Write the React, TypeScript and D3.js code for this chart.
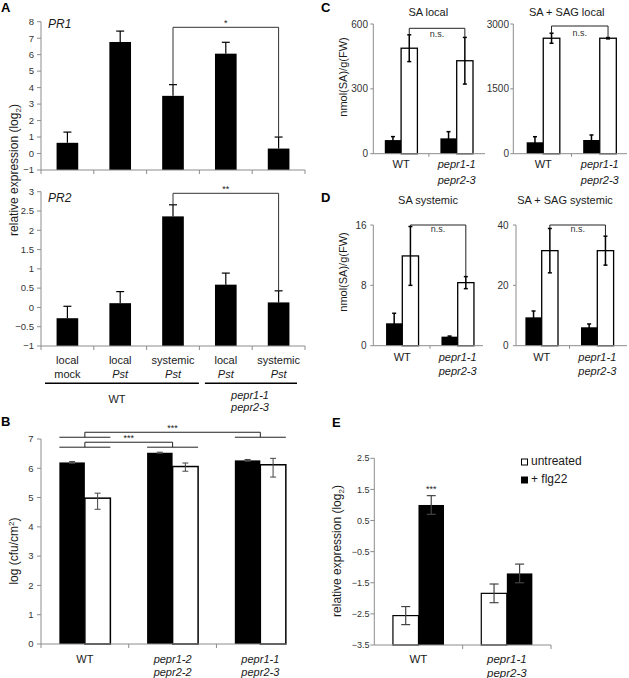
import React from 'react';
import * as d3 from 'd3';

const F = '"Liberation Sans", Arial, Helvetica, sans-serif';
const AX = '#8c8c8c';
const TXT = '#1a1a1a';
const ERR = '#444';

// ---------- Panel A ----------
const aIds = ['c1', 'c2', 'c3', 'c4', 'c5'];
const aLine1 = ['local', 'local', 'systemic', 'local', 'systemic'];
const aLine2 = ['mock', 'Pst', 'Pst', 'Pst', 'Pst'];
const pr1Values = [0.65, 6.77, 3.5, 6.06, 0.3];
const pr1Err = [0.65, 0.66, 0.68, 0.69, 0.7];
const pr1Ticks = [-1, 0, 1, 2, 3, 4, 5, 6, 7, 8];
const pr2Values = [-0.28, 0.11, 2.36, 0.59, 0.13];
const pr2Err = [0.31, 0.3, 0.3, 0.3, 0.3];
const pr2Ticks = [-1, -0.5, 0, 0.5, 1, 1.5, 2, 2.5, 3];

// ---------- Panel B ----------
const bGroups = ['WT', 'pepr1-2', 'pepr1-1'];
const bLabels = [['WT'], ['pepr1-2', 'pepr2-2'], ['pepr1-1', 'pepr2-3']];
const bMock = [6.2, 6.53, 6.27];
const bMockErr = [0.03, 0.02, 0.03];
const bPst = [4.98, 6.06, 6.12];
const bPstHi = [5.15, 6.18, 6.34];
const bPstLo = [4.6, 5.9, 5.7];
const bTicks = [0, 1, 2, 3, 4, 5, 6, 7];

// ---------- Panels C / D ----------
const cdGroups = ['WT', 'pepr1-1'];
const cdLabels = [['WT'], ['pepr1-1', 'pepr2-3']];
const saLocalMock = [63, 71];
const saLocalMockErr = [16, 31];
const saLocalPst = [488, 430];
const saLocalPstErr = [62, 108];
const sagLocalMock = [264, 317];
const sagLocalMockErr = [129, 116];
const sagLocalPst = [2671, 2671];
const sagLocalPstErr = [116, 15];
const saSysMock = [2.97, 1.2];
const saSysMockErr = [1.33, 0.08];
const saSysPst = [11.9, 8.36];
const saSysPstErr = [3.9, 0.8];
const sagSysMock = [9.4, 6.1];
const sagSysMockErr = [2.1, 1.1];
const sagSysPst = [31.5, 31.5];
const sagSysPstErr = [7.35, 4.8];

// ---------- Panel E ----------
const eGroups = ['WT', 'pepr1-1'];
const eLabels = [['WT'], ['pepr1-1', 'pepr2-3']];
const eUntreated = [-2.555, -1.84];
const eUntreatedErr = [0.29, 0.3];
const eFlg22 = [1.0, -1.2];
const eFlg22Err = [0.3, 0.3];
const eTicks = [-3.5, -2.5, -1.5, -0.5, 0.5, 1.5, 2.5];

const fmt = (v: number) => String(v).replace('-', '\u2212');

function YAxis({ x, y, ticks, labelEnd, fontSize, tickLen = 4 }: any) {
  const d = y.domain();
  return (
    <g>
      <line x1={x} x2={x} y1={y(d[0])} y2={y(d[1])} stroke={AX} strokeWidth={1} />
      {ticks.map((t: number) => (
        <g key={t}>
          <line x1={x - tickLen} x2={x} y1={y(t)} y2={y(t)} stroke={AX} strokeWidth={1} />
          <text x={labelEnd} y={y(t)} dy="0.35em" textAnchor="end" fontSize={fontSize} fill="#333">
            {fmt(t)}
          </text>
        </g>
      ))}
    </g>
  );
}

function PanelA() {
  const xA = d3.scaleBand().domain(aIds).range([41, 305]).paddingInner(0.59).paddingOuter(0.295);
  const y1 = d3.scaleLinear().domain([-1, 8]).range([170, 21.7]);
  const y2 = d3.scaleLinear().domain([-1, 3]).range([346, 191.7]);
  const step = (305 - 41) / aIds.length;
  const bounds = d3.range(aIds.length + 1).map((i) => 41 + i * step);
  const cx = (id: string) => (xA(id) as number) + xA.bandwidth() / 2;

  const chart = (y: any, vals: number[], errs: number[], ticks: number[], gene: string, geneY: number, sigY: number, sig: string) => {
    const base = y.domain()[0];
    return (
      <g>
        {aIds.map((id, i) => (
          <g key={id}>
            <rect x={xA(id)} y={y(vals[i])} width={xA.bandwidth()} height={y(base) - y(vals[i])} fill="#000" />
            <line x1={cx(id)} x2={cx(id)} y1={y(vals[i])} y2={y(vals[i] + errs[i])} stroke="#000" strokeWidth={1.2} />
            <line x1={cx(id) - 4} x2={cx(id) + 4} y1={y(vals[i] + errs[i])} y2={y(vals[i] + errs[i])} stroke="#000" strokeWidth={1.2} />
          </g>
        ))}
        <YAxis x={41} y={y} ticks={ticks} labelEnd={34} fontSize={9.5} />
        <line x1={41} x2={305} y1={y(base)} y2={y(base)} stroke={AX} />
        {bounds.map((b, i) => (
          <line key={i} x1={b} x2={b} y1={y(base)} y2={y(base) + 4} stroke={AX} />
        ))}
        <text x={48} y={geneY} fontSize={12} fontStyle="italic" fill={TXT}>{gene}</text>
        <path
          d={`M${cx('c3')},${y(vals[2] + errs[2])}V${sigY}H${cx('c5')}V${y(vals[4] + errs[4])}`}
          fill="none" stroke="#333" strokeWidth={1}
        />
        <text x={(cx('c3') + cx('c5')) / 2} y={sigY - 1} textAnchor="middle" fontSize={9} fill={TXT}>{sig}</text>
      </g>
    );
  };

  return (
    <g>
      <text x={1} y={12} fontSize={13} fontWeight="bold" fill="#000">A</text>
      {chart(y1, pr1Values, pr1Err, pr1Ticks, 'PR1', 28.3, 27.3, '*')}
      {chart(y2, pr2Values, pr2Err, pr2Ticks, 'PR2', 201.7, 193.3, '**')}
      <text transform="translate(18,170) rotate(-90)" textAnchor="middle" fontSize={12} fill={TXT}>
        relative expression (log<tspan dy={3} fontSize={8}>2</tspan><tspan dy={-3}>)</tspan>
      </text>
      {aIds.map((id, i) => (
        <g key={id}>
          <text x={cx(id)} y={364} textAnchor="middle" fontSize={11} fill={TXT}>{aLine1[i]}</text>
          <text x={cx(id)} y={378.3} textAnchor="middle" fontSize={11} fill={TXT}
            fontStyle={aLine2[i] === 'Pst' ? 'italic' : 'normal'}>{aLine2[i]}</text>
        </g>
      ))}
      <line x1={bounds[0] + 4} x2={bounds[3] - 0.5} y1={383.3} y2={383.3} stroke="#000" strokeWidth={1.5} />
      <line x1={bounds[3] + 5.5} x2={bounds[5] - 8} y1={383.3} y2={383.3} stroke="#000" strokeWidth={1.5} />
      <text x={117} y={403.3} textAnchor="middle" fontSize={11} fill={TXT}>WT</text>
      <text x={250} y={399} textAnchor="middle" fontSize={11} fontStyle="italic" fill={TXT}>
        <tspan x={250}>pepr1-1</tspan>
        <tspan x={250} dy={12.3}>pepr2-3</tspan>
      </text>
    </g>
  );
}

function PanelB() {
  const x = d3.scaleBand().domain(bGroups).range([41, 304.2]);
  const sub = d3.scaleBand().domain(['mock', 'pst']).range([0, x.bandwidth()]).paddingOuter(0.72);
  const y = d3.scaleLinear().domain([0, 7]).range([644, 439]);
  const bw = sub.bandwidth();
  const cx = (g: string) => (x(g) as number) + x.bandwidth() / 2;
  const gl = (g: string) => (x(g) as number) + (sub('mock') as number);
  const gr = (g: string) => (x(g) as number) + (sub('pst') as number) + bw;
  const errBar = (xc: number, lo: number, hi: number, key: string) => (
    <g key={key}>
      <line x1={xc} x2={xc} y1={y(lo)} y2={y(hi)} stroke={ERR} strokeWidth={1} />
      <line x1={xc - 3} x2={xc + 3} y1={y(lo)} y2={y(lo)} stroke={ERR} strokeWidth={1} />
      <line x1={xc - 3} x2={xc + 3} y1={y(hi)} y2={y(hi)} stroke={ERR} strokeWidth={1} />
    </g>
  );
  const br = (g1: string, g2: string, top: number, low: number) => (
    <g>
      <path d={`M${cx(g1)},${y(low)}V${y(top)}H${cx(g2)}V${y(low)}`} fill="none" stroke="#222" strokeWidth={1} />
      <line x1={gl(g1)} x2={gr(g1)} y1={y(low)} y2={y(low)} stroke="#222" strokeWidth={1} />
      <line x1={gl(g2)} x2={gr(g2)} y1={y(low)} y2={y(low)} stroke="#222" strokeWidth={1} />
      <text x={(cx(g1) + cx(g2)) / 2} y={y(top) - 1.5} textAnchor="middle" fontSize={9} fill={TXT}>***</text>
    </g>
  );
  return (
    <g>
      <text x={1} y={426} fontSize={13} fontWeight="bold" fill="#000">B</text>
      {bGroups.map((g, i) => (
        <g key={g}>
          <rect x={gl(g)} y={y(bMock[i])} width={bw} height={y(0) - y(bMock[i])} fill="#000" />
          <rect x={(x(g) as number) + (sub('pst') as number)} y={y(bPst[i])} width={bw} height={y(0) - y(bPst[i])}
            fill="#fff" stroke="#000" strokeWidth={1.5} />
          {errBar(gl(g) + bw / 2, bMock[i] - bMockErr[i], bMock[i] + bMockErr[i], 'm' + i)}
          {errBar((x(g) as number) + (sub('pst') as number) + bw / 2, bPstLo[i], bPstHi[i], 'p' + i)}
        </g>
      ))}
      <YAxis x={41} y={y} ticks={bTicks} labelEnd={33.5} fontSize={9.5} />
      <line x1={41} x2={286} y1={y(0)} y2={y(0)} stroke={AX} />
      {bGroups.map((g) => (
        <line key={g} x1={x(g)} x2={x(g)} y1={y(0)} y2={y(0) + 4} stroke={AX} />
      ))}
      {br('WT', 'pepr1-1', 7.23, 7.06)}
      {br('WT', 'pepr1-2', 6.89, 6.72)}
      <text transform="translate(18,551) rotate(-90)" textAnchor="middle" fontSize={12} fill={TXT}>
        log (cfu/cm<tspan dy={-4} fontSize={8}>2</tspan><tspan dy={4}>)</tspan>
      </text>
      {bGroups.map((g, i) => (
        <text key={g} y={663} textAnchor="middle" fontSize={11} fill={TXT} fontStyle={i === 0 ? 'normal' : 'italic'}>
          {bLabels[i].map((l, j) => (
            <tspan key={j} x={cx(g)} dy={j === 0 ? 0 : 12.8}>{l}</tspan>
          ))}
        </text>
      ))}
    </g>
  );
}

function SmallPanel({ axisX, axisEnd, bandRange, yDomain, yRange, ticks, labelEnd, mock, mockErr, pst, pstErr,
  title, titleX, titleY, bracketY, textY, xLabelY, lineGap }: any) {
  const x = d3.scaleBand().domain(cdGroups).range(bandRange);
  const sub = d3.scaleBand().domain(['mock', 'pst']).range([0, x.bandwidth()]).paddingOuter(0.705);
  const y = d3.scaleLinear().domain(yDomain).range(yRange);
  const bw = sub.bandwidth();
  const mx = (g: string) => (x(g) as number) + (sub('mock') as number);
  const px = (g: string) => (x(g) as number) + (sub('pst') as number);
  const cx = (g: string) => (x(g) as number) + x.bandwidth() / 2;
  const err = (xc: number, v: number, e: number, k: string) => (
    <g key={k}>
      <line x1={xc} x2={xc} y1={y(v - e)} y2={y(v + e)} stroke="#000" strokeWidth={1.5} />
      <line x1={xc - 2} x2={xc + 2} y1={y(v - e)} y2={y(v - e)} stroke="#000" strokeWidth={1.5} />
      <line x1={xc - 2} x2={xc + 2} y1={y(v + e)} y2={y(v + e)} stroke="#000" strokeWidth={1.5} />
    </g>
  );
  const w0 = px('WT') + bw / 2;
  const w1 = px('pepr1-1') + bw / 2;
  return (
    <g>
      <text x={titleX} y={titleY} textAnchor="middle" fontSize={11} fill={TXT}>{title}</text>
      {cdGroups.map((g, i) => (
        <g key={g}>
          <rect x={mx(g)} y={y(mock[i])} width={bw} height={y(0) - y(mock[i])} fill="#000" />
          <rect x={px(g)} y={y(pst[i])} width={bw} height={y(0) - y(pst[i])} fill="#fff" stroke="#000" strokeWidth={1.3} />
          {err(mx(g) + bw / 2, mock[i], mockErr[i], 'm' + i)}
          {err(px(g) + bw / 2, pst[i], pstErr[i], 'p' + i)}
        </g>
      ))}
      <YAxis x={axisX} y={y} ticks={ticks} labelEnd={labelEnd} fontSize={10} tickLen={3} />
      <line x1={axisX} x2={axisEnd} y1={y(0)} y2={y(0)} stroke={AX} />
      <line x1={x('pepr1-1')} x2={x('pepr1-1')} y1={y(0)} y2={y(0) + 3} stroke={AX} />
      <path d={`M${w0},${y(pst[0] + pstErr[0])}V${bracketY}H${w1}V${y(pst[1] + pstErr[1])}`}
        fill="none" stroke="#222" strokeWidth={1} />
      <text x={(w0 + w1) / 2} y={textY} textAnchor="middle" fontSize={9} fill="#333">n.s.</text>
      {cdGroups.map((g, i) => (
        <text key={g} y={xLabelY} textAnchor="middle" fontSize={11} fill={TXT} fontStyle={i === 0 ? 'normal' : 'italic'}>
          {cdLabels[i].map((l, j) => (
            <tspan key={j} x={cx(g)} dy={j === 0 ? 0 : lineGap}>{l}</tspan>
          ))}
        </text>
      ))}
    </g>
  );
}

function PanelE() {
  const x = d3.scaleBand().domain(eGroups).range([374.3, 551]);
  const sub = d3.scaleBand().domain(['untreated', 'flg22']).range([0, x.bandwidth()]).paddingOuter(0.73);
  const y = d3.scaleLinear().domain([-3.5, 2.5]).range([645, 458.3]);
  const bw = sub.bandwidth();
  const ux = (g: string) => (x(g) as number) + (sub('untreated') as number);
  const fx = (g: string) => (x(g) as number) + (sub('flg22') as number);
  const cx = (g: string) => (x(g) as number) + x.bandwidth() / 2;
  const err = (xc: number, v: number, e: number, k: string) => (
    <g key={k}>
      <line x1={xc} x2={xc} y1={y(v - e)} y2={y(v + e)} stroke={ERR} strokeWidth={1.2} />
      <line x1={xc - 4.5} x2={xc + 4.5} y1={y(v - e)} y2={y(v - e)} stroke={ERR} strokeWidth={1.2} />
      <line x1={xc - 4.5} x2={xc + 4.5} y1={y(v + e)} y2={y(v + e)} stroke={ERR} strokeWidth={1.2} />
    </g>
  );
  return (
    <g>
      <text x={332} y={426.5} fontSize={13} fontWeight="bold" fill="#000">E</text>
      {eGroups.map((g, i) => (
        <g key={g}>
          <rect x={ux(g)} y={y(eUntreated[i])} width={bw} height={y(-3.5) - y(eUntreated[i])} fill="#fff" stroke="#000" strokeWidth={1.2} />
          <rect x={fx(g)} y={y(eFlg22[i])} width={bw} height={y(-3.5) - y(eFlg22[i])} fill="#000" />
          {err(ux(g) + bw / 2, eUntreated[i], eUntreatedErr[i], 'u' + i)}
          {err(fx(g) + bw / 2, eFlg22[i], eFlg22Err[i], 'f' + i)}
        </g>
      ))}
      <YAxis x={374.3} y={y} ticks={eTicks} labelEnd={369.5} fontSize={9} />
      <line x1={374.3} x2={551} y1={y(-3.5)} y2={y(-3.5)} stroke={AX} />
      <line x1={x('pepr1-1')} x2={x('pepr1-1')} y1={y(-3.5)} y2={y(-3.5) + 4} stroke={AX} />
      <line x1={551} x2={551} y1={y(-3.5)} y2={y(-3.5) + 4} stroke={AX} />
      <text x={fx('WT') + bw / 2} y={y(eFlg22[0] + eFlg22Err[0]) - 4} textAnchor="middle" fontSize={9} fill={TXT}>***</text>
      <text transform="translate(341,551) rotate(-90)" textAnchor="middle" fontSize={12} fill={TXT}>
        relative expression (log<tspan dy={3} fontSize={8}>2</tspan><tspan dy={-3}>)</tspan>
      </text>
      {eGroups.map((g, i) => (
        <text key={g} y={663} textAnchor="middle" fontSize={11.5} fill={TXT} fontStyle={i === 0 ? 'normal' : 'italic'}>
          {eLabels[i].map((l, j) => (
            <tspan key={j} x={cx(g)} dy={j === 0 ? 0 : 13.5}>{l}</tspan>
          ))}
        </text>
      ))}
      <rect x={521.5} y={459} width={6} height={6} fill="#fff" stroke="#000" strokeWidth={1} />
      <text x={531} y={465} fontSize={12} fill={TXT}>untreated</text>
      <rect x={521.5} y={477} width={6} height={6} fill="#000" stroke="#000" strokeWidth={1} />
      <text x={531} y={483} fontSize={12} fill={TXT}>+ flg22</text>
    </g>
  );
}

export default function App() {
  return (
    <svg width={629} height={678} style={{ position: 'absolute', left: 0, top: 0, fontFamily: F }}
      xmlns="http://www.w3.org/2000/svg">
      <rect width={629} height={678} fill="#fff" />
      <PanelA />
      <PanelB />
      <text x={321} y={11.7} fontSize={13} fontWeight="bold" fill="#000">C</text>
      <text transform="translate(347,77) rotate(-90)" textAnchor="middle" fontSize={11} fill={TXT}>nmol(SA)/g(FW)</text>
      <SmallPanel axisX={373.3} axisEnd={485} bandRange={[373.3, 484.5]} yDomain={[0, 600]} yRange={[153.7, 24]}
        ticks={[0, 300, 600]} labelEnd={368} mock={saLocalMock} mockErr={saLocalMockErr} pst={saLocalPst} pstErr={saLocalPstErr}
        title="SA local" titleX={428.3} titleY={16} bracketY={28.3} textY={36.5} xLabelY={168} lineGap={15.5} />
      <SmallPanel axisX={513.3} axisEnd={627} bandRange={[515, 628]} yDomain={[0, 3000]} yRange={[153.7, 24]}
        ticks={[0, 1500, 3000]} labelEnd={509} mock={sagLocalMock} mockErr={sagLocalMockErr} pst={sagLocalPst} pstErr={sagLocalPstErr}
        title="SA + SAG local" titleX={566.7} titleY={16} bracketY={26} textY={36} xLabelY={168} lineGap={15.5} />
      <text x={321} y={202} fontSize={13} fontWeight="bold" fill="#000">D</text>
      <text transform="translate(347,272) rotate(-90)" textAnchor="middle" fontSize={11} fill={TXT}>nmol(SA)/g(FW)</text>
      <SmallPanel axisX={373.3} axisEnd={483} bandRange={[374.6, 485.4]} yDomain={[0, 16]} yRange={[345.7, 225]}
        ticks={[0, 8, 16]} labelEnd={366.5} mock={saSysMock} mockErr={saSysMockErr} pst={saSysPst} pstErr={saSysPstErr}
        title="SA systemic" titleX={428} titleY={203.5} bracketY={225} textY={232} xLabelY={360.7} lineGap={14.5} />
      <SmallPanel axisX={516} axisEnd={627} bandRange={[513.9, 625.1]} yDomain={[0, 40]} yRange={[345.7, 225]}
        ticks={[0, 20, 40]} labelEnd={508.5} mock={sagSysMock} mockErr={sagSysMockErr} pst={sagSysPst} pstErr={sagSysPstErr}
        title="SA + SAG systemic" titleX={565} titleY={203.5} bracketY={225} textY={232} xLabelY={360.7} lineGap={14.5} />
      <PanelE />
    </svg>
  );
}
